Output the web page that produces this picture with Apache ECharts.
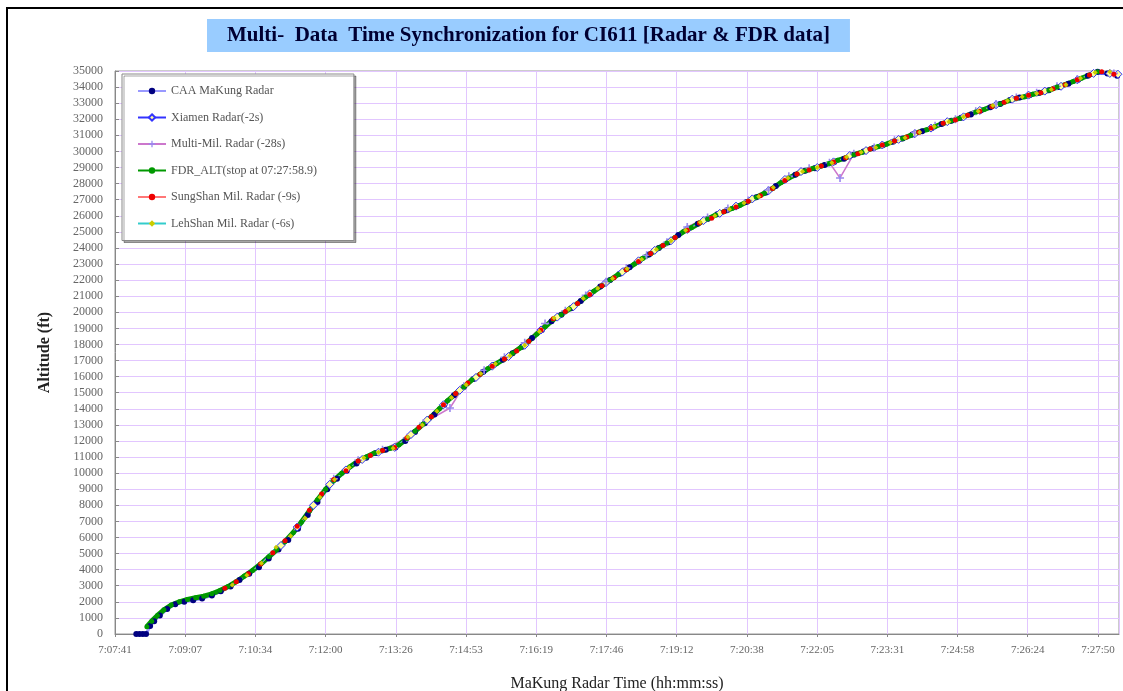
<!DOCTYPE html>
<html>
<head>
  <meta charset="utf-8">
</head>
<body style="margin: 0; background: #fff">
  <div id="container" style="width: 1123px; height: 691px"></div>
  <script src="https://cdn.jsdelivr.net/npm/echarts@6/dist/echarts.min.js"></script>
  <script>
    // radar / FDR samples (MaKung radar time, altitude ft)
    var caaTime = ['7:08:07','7:08:11','7:08:15','7:08:19','7:08:24','7:08:29','7:08:36','7:08:45','7:08:55','7:09:06',
      '7:09:17','7:09:28','7:09:40','7:09:51','7:10:03','7:10:14','7:10:26','7:10:38','7:10:50','7:11:02',
      '7:11:14','7:11:26','7:11:38','7:11:50','7:12:02','7:12:14','7:12:26','7:12:38','7:12:50','7:13:02',
      '7:13:14','7:13:26','7:13:38','7:13:50','7:14:02','7:14:14','7:14:26','7:14:38','7:14:50','7:15:02',
      '7:15:14','7:15:26','7:15:38','7:15:50','7:16:02','7:16:14','7:16:26','7:16:38','7:16:50','7:17:02',
      '7:17:14','7:17:26','7:17:38','7:17:50','7:18:02','7:18:14','7:18:26','7:18:38','7:18:50','7:19:02',
      '7:19:14','7:19:26','7:19:38','7:19:50','7:20:02','7:20:14','7:20:26','7:20:38','7:20:50','7:21:02',
      '7:21:14','7:21:26','7:21:38','7:21:50','7:22:02','7:22:14','7:22:26','7:22:38','7:22:50','7:23:02',
      '7:23:14','7:23:26','7:23:38','7:23:50','7:24:02','7:24:14','7:24:26','7:24:38','7:24:50','7:25:02',
      '7:25:14','7:25:26','7:25:38','7:25:50','7:26:02','7:26:14','7:26:26','7:26:38','7:26:50','7:27:02',
      '7:27:14','7:27:26','7:27:38','7:27:50','7:28:02','7:28:14'];
    var caaAlt = [0,0,0,0,500,800,1150,1550,1850,2000,
      2100,2200,2400,2650,2950,3350,3750,4150,4700,5250,
      5850,6550,7400,8200,9000,9650,10150,10600,10950,11250,
      11450,11600,12000,12550,13100,13650,14250,14850,15350,15850,
      16300,16700,17050,17450,17850,18400,18900,19450,19850,20250,
      20700,21150,21600,22000,22400,22800,23200,23600,24000,24350,
      24800,25200,25500,25800,26100,26350,26600,26850,27150,27450,
      27850,28250,28550,28800,28950,29150,29350,29550,29800,30000,
      30200,30400,30600,30800,31050,31250,31450,31700,31900,32100,
      32300,32550,32750,32950,33200,33350,33500,33650,33800,34000,
      34200,34450,34700,34950,34850,34700];

    var xiamenTime = ['7:11:05','7:11:25','7:11:45','7:12:05','7:12:25','7:12:45','7:13:05','7:13:25','7:13:45','7:14:05',
      '7:14:25','7:14:45','7:15:05','7:15:25','7:15:45','7:16:05','7:16:25','7:16:45','7:17:05','7:17:25',
      '7:17:45','7:18:05','7:18:25','7:18:45','7:19:05','7:19:25','7:19:45','7:20:05','7:20:25','7:20:45',
      '7:21:05','7:21:25','7:21:45','7:22:05','7:22:25','7:22:45','7:23:05','7:23:25','7:23:45','7:24:05',
      '7:24:25','7:24:45','7:25:05','7:25:25','7:25:45','7:26:05','7:26:25','7:26:45','7:27:05','7:27:25',
      '7:27:45','7:28:05','7:28:15'];
    var xiamenAlt = [5500,6650,8000,9300,10200,10850,11300,11600,12400,13300,
      14250,15150,15950,16650,17250,17950,18900,19700,20350,21150,
      21850,22500,23200,23850,24450,25150,25700,26150,26600,27050,
      27550,28250,28750,29000,29350,29750,30050,30400,30750,31100,
      31450,31850,32150,32550,32900,33250,33500,33750,34050,34450,
      34850,34850,34800];

    var multiTime = ['7:12:10','7:12:40','7:13:10','7:13:40','7:14:00','7:14:33','7:14:50','7:15:15','7:15:40','7:16:05',
      '7:16:30','7:16:55','7:17:20','7:17:45','7:18:10','7:18:35','7:19:00','7:19:25','7:19:50','7:20:15',
      '7:20:40','7:21:05','7:21:30','7:21:55','7:22:20','7:22:33','7:22:50','7:23:15','7:23:40','7:24:05',
      '7:24:30','7:24:55','7:25:20','7:25:45','7:26:10','7:26:35','7:27:00','7:27:25','7:27:50','7:28:10'];
    var multiAlt = [9650,10800,11450,12200,13100,14050,15400,16400,17200,18100,
      19300,20100,21050,21900,22750,23550,24350,25300,25900,26450,
      26950,27600,28450,28950,29300,28350,29850,30250,30700,31150,
      31600,32000,32500,32950,33350,33650,34050,34500,35050,34850];

    var fdrTime = ['7:08:20','7:08:26','7:08:33','7:08:41','7:08:50','7:09:00','7:09:10','7:09:20','7:09:30','7:09:40',
      '7:09:50','7:10:00','7:10:10','7:10:20','7:10:30','7:10:40','7:10:50','7:11:00','7:11:10','7:11:20',
      '7:11:30','7:11:40','7:11:50','7:12:00','7:12:10','7:12:20','7:12:30','7:12:40','7:12:50','7:13:00',
      '7:13:10','7:13:20','7:13:30','7:13:40','7:13:50','7:14:00','7:14:10','7:14:20','7:14:30','7:14:40',
      '7:14:50','7:15:00','7:15:10','7:15:20','7:15:30','7:15:40','7:15:50','7:16:00','7:16:10','7:16:20',
      '7:16:30','7:16:40','7:16:50','7:17:00','7:17:10','7:17:20','7:17:30','7:17:40','7:17:50','7:18:00',
      '7:18:10','7:18:20','7:18:30','7:18:40','7:18:50','7:19:00','7:19:10','7:19:20','7:19:30','7:19:40',
      '7:19:50','7:20:00','7:20:10','7:20:20','7:20:30','7:20:40','7:20:50','7:21:00','7:21:10','7:21:20',
      '7:21:30','7:21:40','7:21:50','7:22:00','7:22:10','7:22:20','7:22:30','7:22:40','7:22:50','7:23:00',
      '7:23:10','7:23:20','7:23:30','7:23:40','7:23:50','7:24:00','7:24:10','7:24:20','7:24:30','7:24:40',
      '7:24:50','7:25:00','7:25:10','7:25:20','7:25:30','7:25:40','7:25:50','7:26:00','7:26:10','7:26:20',
      '7:26:30','7:26:40','7:26:50','7:27:00','7:27:10','7:27:20','7:27:30','7:27:40','7:27:50'];
    var fdrAlt = [450,800,1150,1500,1800,2000,2150,2250,2350,2500,
      2700,2950,3250,3600,3950,4350,4800,5250,5750,6300,
      6950,7650,8350,9000,9550,10000,10400,10750,11000,11250,
      11400,11550,11750,12150,12600,13050,13500,14000,14500,14950,
      15350,15800,16150,16500,16800,17100,17450,17800,18200,18650,
      19100,19550,19850,20200,20550,20950,21300,21650,22000,22350,
      22650,23000,23350,23650,24000,24300,24650,25000,25250,25550,
      25800,26050,26250,26450,26650,26900,27150,27400,27700,28050,
      28350,28600,28800,28950,29100,29250,29450,29600,29800,29950,
      30150,30300,30450,30650,30800,31000,31200,31350,31550,31750,
      31900,32050,32250,32450,32600,32800,32950,33150,33300,33400,
      33550,33650,33800,34000,34150,34350,34550,34750,34950];

    var sungTime = ['7:09:56','7:10:10','7:10:25','7:10:40','7:10:55','7:11:10','7:11:25','7:11:40','7:11:55','7:12:10',
      '7:12:25','7:12:40','7:12:55','7:13:10','7:13:25','7:13:40','7:13:55','7:14:10','7:14:25','7:14:40',
      '7:14:55','7:15:10','7:15:25','7:15:40','7:15:55','7:16:10','7:16:25','7:16:40','7:16:55','7:17:10',
      '7:17:25','7:17:40','7:17:55','7:18:10','7:18:25','7:18:40','7:18:55','7:19:10','7:19:25','7:19:40',
      '7:19:55','7:20:10','7:20:25','7:20:40','7:20:55','7:21:10','7:21:25','7:21:40','7:21:55','7:22:10',
      '7:22:25','7:22:40','7:22:55','7:23:10','7:23:25','7:23:40','7:23:55','7:24:10','7:24:25','7:24:40',
      '7:24:55','7:25:10','7:25:25','7:25:40','7:25:55','7:26:10','7:26:25','7:26:40','7:26:55','7:27:10',
      '7:27:25','7:27:40','7:27:55','7:28:10'];
    var sungAlt = [2850,3250,3750,4350,5050,5800,6700,7700,8700,9600,
      10150,10750,11100,11400,11600,12200,12850,13500,14250,14950,
      15600,16150,16650,17100,17600,18200,18900,19600,20050,20550,
      21100,21650,22150,22650,23150,23650,24150,24650,25100,25550,
      25850,26250,26550,26900,27250,27700,28200,28600,28850,29100,
      29350,29600,29850,30150,30400,30650,30900,31200,31450,31750,
      31950,32250,32500,32800,33050,33300,33500,33650,33900,34150,
      34450,34750,34950,34800];

    var lehTime = ['7:10:05','7:10:23','7:10:41','7:10:59','7:11:17','7:11:35','7:11:53','7:12:11','7:12:29','7:12:47',
      '7:13:05','7:13:23','7:13:41','7:13:59','7:14:17','7:14:35','7:14:53','7:15:11','7:15:29','7:15:47',
      '7:16:05','7:16:23','7:16:41','7:16:59','7:17:17','7:17:35','7:17:53','7:18:11','7:18:29','7:18:47',
      '7:19:05','7:19:23','7:19:41','7:19:59','7:20:17','7:20:35','7:20:53','7:21:11','7:21:29','7:21:47',
      '7:22:05','7:22:23','7:22:41','7:22:59','7:23:17','7:23:35','7:23:53','7:24:11','7:24:29','7:24:47',
      '7:25:05','7:25:23','7:25:41','7:25:59','7:26:17','7:26:35','7:26:53','7:27:11','7:27:29','7:27:47',
      '7:28:05'];
    var lehAlt = [3050,3650,4400,5400,6100,7200,8500,9600,10350,10950,
      11300,11550,12250,13000,13850,14700,15500,16200,16800,17300,
      17950,18800,19650,20200,20850,21500,22100,22700,23300,23900,
      24450,25100,25600,26000,26400,26800,27200,27750,28350,28750,
      29000,29300,29650,29950,30250,30550,30850,31200,31550,31850,
      32150,32500,32850,33150,33400,33600,33850,34150,34550,34900,
      34950];

    var seriesNames = ['CAA MaKung Radar', 'Xiamen Radar(-2s)', 'Multi-Mil. Radar (-28s)',
      'FDR_ALT(stop at 07:27:58.9)', 'SungShan Mil. Radar (-9s)', 'LehShan Mil. Radar (-6s)'];

    // x axis is in tenths of a second, ticks every 0.001 day (86.4 s)
    function toTenths(s) {
      var p = s.split(':').map(Number);
      return (p[0] * 3600 + p[1] * 60 + p[2]) * 10;
    }
    function pad(n) { return n < 10 ? '0' + n : '' + n; }
    function fmtTime(v) {
      var s = Math.round(v / 10);
      return Math.floor(s / 3600) + ':' + pad(Math.floor(s % 3600 / 60)) + ':' + pad(s % 60);
    }
    function pairs(t, a) {
      return t.map(function (x, i) { return [toTenths(x), a[i]]; });
    }

    var serif = 'Liberation Serif';
    var plus = 'path://M4,0h2v4h4v2h-4v4h-2v-4h-4v-2h4z';

    var chart = echarts.init(document.getElementById('container'), null, { renderer: 'canvas' });
    var option = {
      animation: false,
      backgroundColor: '#fff',
      title: {
        text: 'Multi-  Data  Time Synchronization for CI611 [Radar & FDR data]',
        left: 207,
        top: 19,
        padding: [6, 20, 6, 20],
        backgroundColor: '#99ccff',
        textStyle: { fontFamily: serif, fontWeight: 'bold', fontSize: 21, color: '#000033' }
      },
      graphic: [{
        type: 'rect',
        shape: { x: 7, y: 8, width: 1200, height: 800 },
        style: { fill: 'none', stroke: '#000', lineWidth: 2 },
        silent: true
      }],
      legend: {
        orient: 'vertical',
        left: 122,
        top: 74,
        padding: [11, 37, 11, 15],
        itemGap: 14.5,
        itemWidth: 28,
        itemHeight: 8,
        backgroundColor: '#fff',
        borderColor: '#888',
        borderWidth: 1,
        shadowColor: 'rgba(0,0,0,0.35)',
        shadowOffsetX: 2,
        shadowOffsetY: 2,
        textStyle: { fontFamily: serif, fontSize: 12, color: '#555' },
        data: seriesNames
      },
      grid: {
        left: 115, right: 4, top: 71, bottom: 57,
        outerBoundsMode: 'none',
        show: true, borderColor: '#999', borderWidth: 1, backgroundColor: '#fff'
      },
      xAxis: {
        type: 'value',
        min: 256608,
        max: 268963,
        interval: 864,
        name: 'MaKung Radar Time (hh:mm:ss)',
        nameLocation: 'middle',
        nameGap: 42,
        nameTextStyle: { fontFamily: serif, fontSize: 16, color: '#222' },
        axisLine: { lineStyle: { color: '#888' } },
        axisTick: { length: 3, lineStyle: { color: '#888' } },
        axisLabel: {
          formatter: fmtTime, showMaxLabel: false, margin: 11,
          fontFamily: serif, fontSize: 11, color: '#666'
        },
        splitLine: { show: true, lineStyle: { color: '#e2c6ff', width: 1 } }
      },
      yAxis: {
        type: 'value',
        min: 0,
        max: 35000,
        interval: 1000,
        name: 'Altitude (ft)',
        nameLocation: 'middle',
        nameGap: 62,
        nameTextStyle: { fontFamily: serif, fontSize: 16, fontWeight: 'bold', color: '#222' },
        axisLine: { show: true, lineStyle: { color: '#888' } },
        axisTick: { show: true, inside: true, length: 4, lineStyle: { color: '#888' } },
        axisLabel: {
          formatter: function (v) { return String(v); },
          margin: 12, fontFamily: serif, fontSize: 12, color: '#666'
        },
        splitLine: { show: true, lineStyle: { color: '#e2c6ff', width: 1 } }
      },
      series: [
        {
          name: seriesNames[0], type: 'line', data: pairs(caaTime, caaAlt),
          symbol: 'circle', symbolSize: 6,
          lineStyle: { color: '#9999ff', width: 3 },
          itemStyle: { color: '#000080' }
        },
        {
          name: seriesNames[1], type: 'line', data: pairs(xiamenTime, xiamenAlt),
          symbol: 'diamond', symbolSize: 8,
          lineStyle: { color: '#3333ff', width: 2.5 },
          itemStyle: { color: '#ffff99', borderColor: '#3333ff', borderWidth: 1 }
        },
        {
          name: seriesNames[2], type: 'line', data: pairs(multiTime, multiAlt),
          symbol: plus, symbolSize: 8,
          lineStyle: { color: '#cc77cc', width: 1.5 },
          itemStyle: { color: '#9988ee' }
        },
        {
          name: seriesNames[3], type: 'line', data: pairs(fdrTime, fdrAlt),
          symbol: 'circle', symbolSize: 5,
          lineStyle: { color: '#009900', width: 5 },
          itemStyle: { color: '#009900' }
        },
        {
          name: seriesNames[4], type: 'line', data: pairs(sungTime, sungAlt),
          symbol: 'circle', symbolSize: 5,
          lineStyle: { color: '#ff7777', width: 1 },
          itemStyle: { color: '#ee0000' }
        },
        {
          name: seriesNames[5], type: 'line', data: pairs(lehTime, lehAlt),
          symbol: 'diamond', symbolSize: 5,
          lineStyle: { color: '#33cccc', width: 1 },
          itemStyle: { color: '#cccc00' }
        }
      ]
    };
    chart.setOption(option);
  </script>
</body>
</html>
